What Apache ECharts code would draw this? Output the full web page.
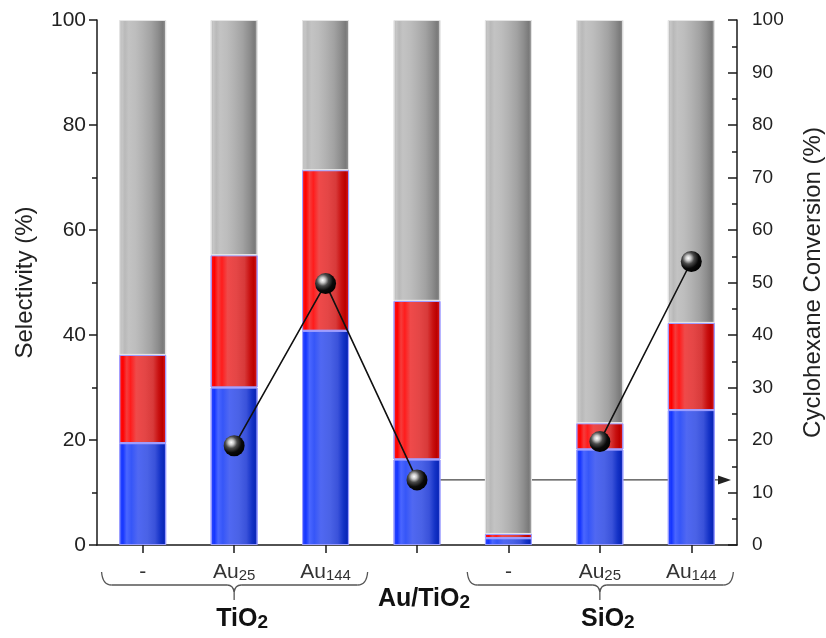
<!DOCTYPE html>
<html>
<head>
<meta charset="utf-8">
<script src="https://cdn.jsdelivr.net/npm/echarts@6/dist/echarts.min.js"></script>
<style>
  html, body { margin: 0; padding: 0; background: #ffffff; }
  #chart { width: 826px; height: 638px; }
</style>
</head>
<body>
<div id="chart"></div>
<script>
// Catalysts along the category axis
const categories = ['TiO2', 'Au25/TiO2', 'Au144/TiO2', 'Au/TiO2', 'SiO2', 'Au25/SiO2', 'Au144/SiO2'];
// Tick label under each bar ("_" marks the start of a subscript)
const tickLabels = ['-', 'Au_25', 'Au_144', '', '-', 'Au_25', 'Au_144'];

// Product selectivity (%), stacked: blue + red + grey = 100
const selBlue = [19.4, 30.0, 40.8, 16.3, 1.3, 18.2, 25.7];
const selRed  = [16.8, 25.2, 30.6, 30.2, 0.8, 5.0, 16.6];
const selGrey = [63.8, 44.8, 28.6, 53.5, 97.9, 76.8, 57.7];

// Cyclohexane conversion (%), right axis
const conversion = [null, 18.9, 49.8, 12.4, null, 19.7, 54.0];

// Support groups drawn under the tick labels
const groupNames = ['TiO_2', 'SiO_2'];
const groupSpans = [[0, 2], [4, 6]];
const singleName = 'Au/TiO_2';
const singleIndex = 3;

// Axis ranges
const leftAxisRange = [0, 100, 20];
const rightAxisRange = [0, 100, 10];

const FONT = '"Liberation Sans", Arial, Helvetica, sans-serif';

function subRich(s, big, small) {
  const parts = s.split('_');
  if (parts.length < 2) return '{' + big + '|' + s + '}';
  return '{' + big + '|' + parts[0] + '}{' + small + '|' + parts[1] + '}';
}

function hGrad(stops) {
  return {
    type: 'linear', x: 0, y: 0, x2: 1, y2: 0,
    colorStops: stops.map(function (s) { return { offset: s[0], color: s[1] }; })
  };
}

const greyFill = hGrad([
  [0, '#b6b6b6'], [0.06, '#c6c6c6'], [0.12, '#b9b9b9'], [0.2, '#c3c3c3'],
  [0.35, '#bdbdbd'], [0.5, '#b2b2b2'], [0.68, '#a2a2a2'], [0.82, '#8e8e8e'],
  [0.93, '#7a7a7a'], [1, '#9a9a9a']
]);
const redFill = hGrad([
  [0, '#ff1a1a'], [0.08, '#ff0000'], [0.16, '#f53c3c'], [0.24, '#ff1c1c'],
  [0.36, '#ef4a4a'], [0.55, '#e44646'], [0.72, '#d83a3a'], [0.84, '#c81010'],
  [0.92, '#bb0000'], [1, '#e01a1a']
]);
const blueFill = hGrad([
  [0, '#2d4bff'], [0.08, '#1636ff'], [0.16, '#4a66ff'], [0.26, '#3656f8'],
  [0.4, '#5068f2'], [0.6, '#4a62e6'], [0.76, '#3a52da'], [0.88, '#1432c6'],
  [0.95, '#0a26b8'], [1, '#2a46d4']
]);
const sphereFill = {
  type: 'radial', x: 0.36, y: 0.34, r: 0.7,
  colorStops: [
    { offset: 0, color: '#ffffff' },
    { offset: 0.18, color: '#c8c8c8' },
    { offset: 0.4, color: '#4a4a4a' },
    { offset: 0.7, color: '#0a0a0a' },
    { offset: 1, color: '#000000' }
  ]
};

const chart = echarts.init(document.getElementById('chart'), null, { renderer: 'canvas' });

const barCommon = {
  type: 'bar', stack: 'sel', yAxisIndex: 0, barWidth: 47,
  emphasis: { disabled: true }, animation: false
};

chart.setOption({
  animation: false,
  backgroundColor: '#ffffff',
  grid: { left: 97, right: 89, top: 20, bottom: 93, containLabel: false, outerBoundsMode: 'none' },
  xAxis: {
    type: 'category',
    data: categories,
    boundaryGap: true,
    axisLine: { show: true, lineStyle: { color: '#1a1a1a', width: 1.5 } },
    axisTick: { show: true, alignWithLabel: true, length: 8, lineStyle: { color: '#1a1a1a', width: 1.5 } },
    axisLabel: {
      interval: 0, margin: 4, color: '#333',
      fontFamily: FONT,
      formatter: function (v, i) { return subRich(tickLabels[i], 'n', 's'); },
      rich: {
        n: { fontSize: 21, fontFamily: FONT, color: '#333', lineHeight: 34, verticalAlign: 'bottom' },
        s: { fontSize: 15, fontFamily: FONT, color: '#333', lineHeight: 14, verticalAlign: 'bottom' }
      }
    },
    splitLine: { show: false }
  },
  yAxis: [
    {
      type: 'value', min: leftAxisRange[0], max: leftAxisRange[1], interval: leftAxisRange[2],
      position: 'left',
      name: 'Selectivity (%)', nameLocation: 'middle', nameGap: 60, nameRotate: 90,
      nameTextStyle: { fontSize: 24, fontFamily: FONT, color: '#222' },
      axisLine: { show: true, lineStyle: { color: '#1a1a1a', width: 1.5 } },
      axisTick: { show: true, inside: false, length: 8, lineStyle: { color: '#1a1a1a', width: 1.5 } },
      minorTick: { show: true, splitNumber: 2, length: 5, lineStyle: { color: '#1a1a1a', width: 1.5 } },
      axisLabel: { fontSize: 21, fontFamily: FONT, color: '#222', margin: 11 },
      splitLine: { show: false }
    },
    {
      type: 'value', min: rightAxisRange[0], max: rightAxisRange[1], interval: rightAxisRange[2],
      position: 'right',
      name: 'Cyclohexane Conversion (%)', nameLocation: 'middle', nameGap: 64, nameRotate: 90,
      nameTextStyle: { fontSize: 24, fontFamily: FONT, color: '#222' },
      axisLine: { show: true, lineStyle: { color: '#1a1a1a', width: 1.5 } },
      axisTick: { show: true, inside: true, length: 9, lineStyle: { color: '#1a1a1a', width: 1.5 } },
      minorTick: { show: true, splitNumber: 2, length: 5, lineStyle: { color: '#1a1a1a', width: 1.5 } },
      axisLabel: { fontSize: 19, fontFamily: FONT, color: '#222', margin: 15 },
      splitLine: { show: false }
    }
  ],
  series: [
    Object.assign({}, barCommon, {
      name: 'blue', data: selBlue,
      itemStyle: { color: blueFill, borderColor: '#9a9cff', borderWidth: 1 }
    }),
    Object.assign({}, barCommon, {
      name: 'red', data: selRed,
      itemStyle: { color: redFill, borderColor: '#a09cff', borderWidth: 1 }
    }),
    Object.assign({}, barCommon, {
      name: 'grey', data: selGrey,
      itemStyle: { color: greyFill, borderColor: '#e4e4e4', borderWidth: 1 }
    }),
    {
      name: 'conversion', type: 'line', yAxisIndex: 1, data: conversion,
      connectNulls: false, z: 5,
      symbol: 'circle', symbolSize: 21, showSymbol: true,
      lineStyle: { color: '#111111', width: 1.6 },
      itemStyle: { color: sphereFill, borderWidth: 0 },
      emphasis: { disabled: true }, animation: false
    }
  ]
});

// Annotations below the axis: braces, group names, and the arrow to the right axis
function xPix(i) { return chart.convertToPixel({ xAxisIndex: 0 }, categories[i]); }
function yRight(v) { return chart.convertToPixel({ yAxisIndex: 1 }, v); }

const step = xPix(1) - xPix(0);
const graphics = [];
const braceY = 585, braceEnd = 572, braceTip = 600;
const braceStroke = { stroke: '#555555', lineWidth: 1.3, fill: null };

function quad(x1, y1, cx, cy, x2, y2) {
  return {
    type: 'bezierCurve', silent: true,
    shape: { x1: x1, y1: y1, cpx1: cx, cpy1: cy, x2: x2, y2: y2 },
    style: braceStroke
  };
}
function seg(x1, y1, x2, y2) {
  return {
    type: 'line', silent: true,
    shape: { x1: x1, y1: y1, x2: x2, y2: y2 },
    style: braceStroke
  };
}
function brace(xl, xm, xr) {
  return {
    type: 'group', silent: true,
    children: [
      quad(xl, braceEnd, xl + 1, braceY, xl + 10, braceY),
      seg(xl + 10, braceY, xm - 7, braceY),
      quad(xm - 7, braceY, xm - 1, braceY, xm, braceY + 7),
      seg(xm, braceY + 7, xm, braceTip),
      quad(xm, braceY + 7, xm + 1, braceY, xm + 7, braceY),
      seg(xm + 7, braceY, xr - 10, braceY),
      quad(xr - 10, braceY, xr - 1, braceY, xr, braceEnd)
    ]
  };
}

const boldRich = {
  n: { fontSize: 25, fontWeight: 'bold', fontFamily: FONT, fill: '#111', lineHeight: 36, verticalAlign: 'bottom' },
  s: { fontSize: 19, fontWeight: 'bold', fontFamily: FONT, fill: '#111', lineHeight: 14, verticalAlign: 'bottom' }
};

groupSpans.forEach(function (span, g) {
  const xl = xPix(span[0]) - step * 0.45;
  const xr = xPix(span[1]) + step * 0.46;
  const xm = (xPix(span[0]) + xPix(span[1])) / 2;
  graphics.push(brace(xl, xm, xr));
  graphics.push({
    type: 'text', silent: true,
    x: xm + 8, y: 614,
    style: {
      text: subRich(groupNames[g], 'n', 's'), rich: boldRich,
      align: 'center', verticalAlign: 'middle'
    }
  });
});

graphics.push({
  type: 'text', silent: true,
  x: xPix(singleIndex) + 7, y: 594,
  style: {
    text: subRich(singleName, 'n', 's'), rich: boldRich,
    align: 'center', verticalAlign: 'middle'
  }
});

// Arrow from the Au/TiO2 conversion point to the right axis
const ay = yRight(conversion[singleIndex]);
const ax0 = xPix(singleIndex) + 17;
const axisRight = xPix(categories.length - 1) + step / 2;
const tip = axisRight - 6;
graphics.push({
  type: 'line', silent: true,
  shape: { x1: ax0, y1: ay, x2: tip - 10, y2: ay },
  style: { stroke: '#444444', lineWidth: 1.2 }
});
graphics.push({
  type: 'polygon', silent: true,
  shape: { points: [[tip, ay], [tip - 13, ay - 4.5], [tip - 13, ay + 4.5]] },
  style: { fill: '#222222' }
});

chart.setOption({ graphic: graphics });
</script>
</body>
</html>
